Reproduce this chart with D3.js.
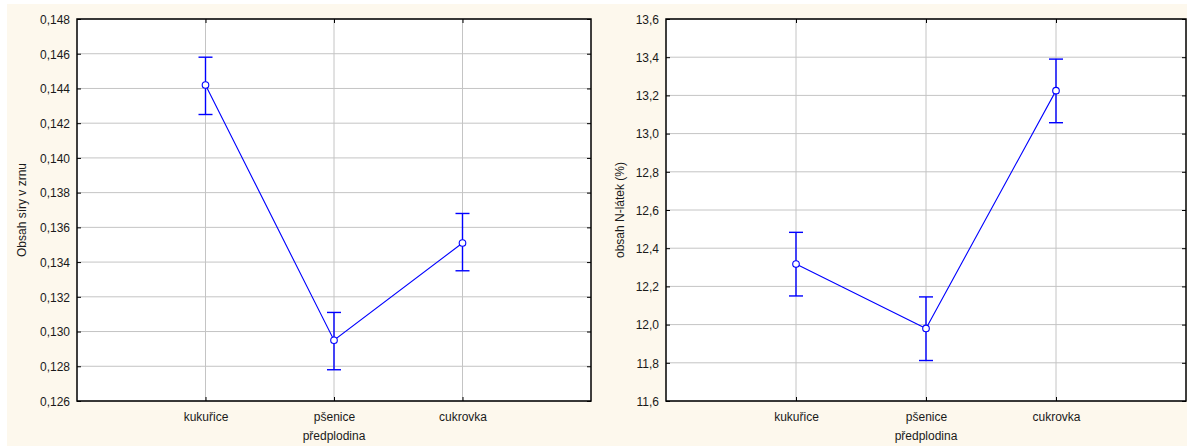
<!DOCTYPE html>
<html>
<head>
<meta charset="utf-8">
<script src="https://cdn.jsdelivr.net/npm/d3@7/dist/d3.min.js"></script>
<style>
  html, body { margin: 0; padding: 0; background: #ffffff; }
  svg { display: block; font-family: "Liberation Sans", Arial, sans-serif; }
</style>
</head>
<body>
<svg id="chart" width="1187" height="446"></svg>
<script>
// ---- data ----
const categories = ["kukuřice", "pšenice", "cukrovka"];
const xTitle = "předplodina";

const sulfurMean  = [0.1442, 0.1295, 0.1351];
const sulfurUpper = [0.1458, 0.1311, 0.1368];
const sulfurLower = [0.1425, 0.1278, 0.1335];
const sulfurTicks = [0.126, 0.128, 0.130, 0.132, 0.134, 0.136, 0.138, 0.140, 0.142, 0.144, 0.146, 0.148];
const sulfurTitle = "Obsah síry v zrnu";

const nMean  = [12.317, 11.980, 13.225];
const nUpper = [12.483, 12.145, 13.390];
const nLower = [12.150, 11.812, 13.057];
const nTicks = [11.6, 11.8, 12.0, 12.2, 12.4, 12.6, 12.8, 13.0, 13.2, 13.4, 13.6];
const nTitle = "obsah N-látek (%)";

// ---- drawing ----
const svg = d3.select("#chart");
const locale = d3.formatLocale({decimal: ",", thousands: " ", grouping: [3], currency: ["", ""]});

svg.append("rect").attr("x", 7).attr("y", 4).attr("width", 1180).attr("height", 442).attr("fill", "#fdf8ed");

function panel(opt) {
  const {x0, x1, y0, y1, ticks, fmt, mean, upper, lower, title, titleX} = opt;
  const g = svg.append("g");
  const x = d3.scalePoint().domain(categories).range([x0, x1]).padding(1);
  const y = d3.scaleLinear().domain([ticks[0], ticks[ticks.length - 1]]).range([y1, y0]);

  g.append("rect").attr("x", x0).attr("y", y0).attr("width", x1 - x0).attr("height", y1 - y0).attr("fill", "#ffffff");

  // gridlines
  g.append("g").selectAll("line").data(ticks).join("line")
    .attr("x1", x0).attr("x2", x1).attr("y1", d => y(d)).attr("y2", d => y(d))
    .attr("stroke", "#c4c4c4").attr("stroke-width", 1);
  g.append("g").selectAll("line").data(categories).join("line")
    .attr("x1", d => x(d)).attr("x2", d => x(d)).attr("y1", y0).attr("y2", y1)
    .attr("stroke", "#c4c4c4").attr("stroke-width", 1);

  // axes
  const left = g.append("g").attr("transform", `translate(${x0},0)`)
    .call(d3.axisLeft(y).tickValues(ticks).tickFormat(locale.format(fmt)).tickSize(-4).tickPadding(7));
  const right = g.append("g").attr("transform", `translate(${x1},0)`)
    .call(d3.axisRight(y).tickValues(ticks).tickFormat("").tickSize(-4));
  const bottom = g.append("g").attr("transform", `translate(0,${y1})`)
    .call(d3.axisBottom(x).tickSize(-4).tickPadding(11));
  const top = g.append("g").attr("transform", `translate(0,${y0})`)
    .call(d3.axisTop(x).tickFormat("").tickSize(-4));
  [left, right, bottom, top].forEach(a => {
    a.select(".domain").remove();
    a.selectAll(".tick line").attr("stroke", "#000");
    a.selectAll("text").attr("fill", "#1a1a1a").attr("font-size", 12).attr("font-family", "Liberation Sans, Arial, sans-serif");
  });
  left.selectAll("text").attr("dy", "0.36em");

  // frame
  g.append("rect").attr("x", x0).attr("y", y0).attr("width", x1 - x0).attr("height", y1 - y0)
    .attr("fill", "none").attr("stroke", "#000").attr("stroke-width", 1.5);

  // data
  const pts = categories.map((c, i) => ({c, m: mean[i], u: upper[i], l: lower[i]}));
  g.append("path").datum(pts)
    .attr("d", d3.line().x(d => x(d.c)).y(d => y(d.m)))
    .attr("fill", "none").attr("stroke", "#0000ff").attr("stroke-width", 1.1);
  const eb = g.append("g").selectAll("g").data(pts).join("g");
  eb.append("line").attr("x1", d => x(d.c)).attr("x2", d => x(d.c)).attr("y1", d => y(d.u)).attr("y2", d => y(d.l))
    .attr("stroke", "#0000ff").attr("stroke-width", 1.4);
  eb.append("line").attr("x1", d => x(d.c) - 7).attr("x2", d => x(d.c) + 7).attr("y1", d => y(d.u)).attr("y2", d => y(d.u))
    .attr("stroke", "#0000ff").attr("stroke-width", 1.4);
  eb.append("line").attr("x1", d => x(d.c) - 7).attr("x2", d => x(d.c) + 7).attr("y1", d => y(d.l)).attr("y2", d => y(d.l))
    .attr("stroke", "#0000ff").attr("stroke-width", 1.4);
  eb.append("circle").attr("cx", d => x(d.c)).attr("cy", d => y(d.m)).attr("r", 3.3)
    .attr("fill", "#ffffff").attr("stroke", "#0000ff").attr("stroke-width", 1.1);

  // titles
  g.append("text").attr("transform", `translate(${titleX},${(y0 + y1) / 2}) rotate(-90)`)
    .attr("text-anchor", "middle").attr("font-size", 12).attr("fill", "#1a1a1a").text(title);
  g.append("text").attr("x", (x0 + x1) / 2).attr("y", 440)
    .attr("text-anchor", "middle").attr("font-size", 12).attr("fill", "#1a1a1a").text(xTitle);
}

panel({x0: 77, x1: 591, y0: 19, y1: 401, ticks: sulfurTicks, fmt: ".3f",
       mean: sulfurMean, upper: sulfurUpper, lower: sulfurLower, title: sulfurTitle, titleX: 26});
panel({x0: 666, x1: 1186, y0: 19, y1: 401, ticks: nTicks, fmt: ".1f",
       mean: nMean, upper: nUpper, lower: nLower, title: nTitle, titleX: 624});
</script>
</body>
</html>
